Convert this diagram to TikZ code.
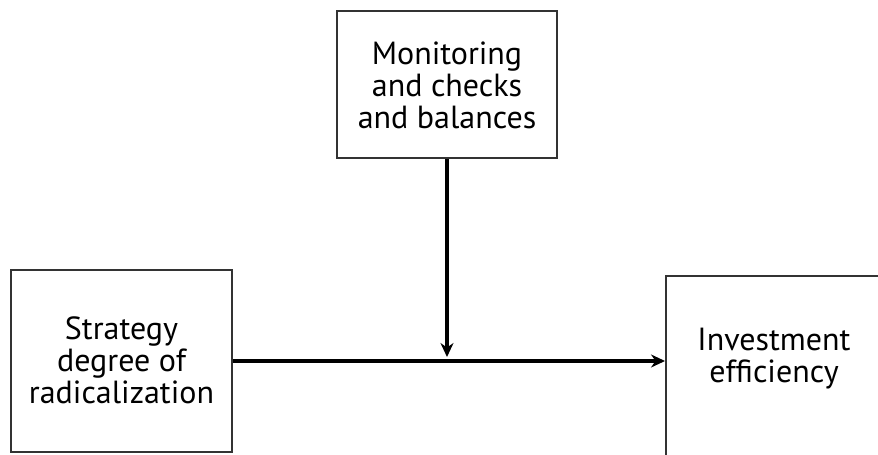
\documentclass[tikz,border=0pt]{standalone}
\usepackage{fontspec}
\setmainfont{PT Sans}
\usepackage{tikz}
\usetikzlibrary{arrows.meta}

\begin{document}
\begin{tikzpicture}[x=1pt, y=1pt,
  box/.style={draw=black!80, line width=2.4pt, fill=white, inner sep=0pt},
  txt/.style={align=center, font=\fontsize{32}{32}\selectfont},
  link/.style={line width=3.2pt, -{Stealth[length=14pt, width=13pt]}}]
\useasboundingbox (0,0) rectangle (878,455);

\node[box, minimum width=221, minimum height=182] (strat) at (121.5,94) {};
\node[box, minimum width=220, minimum height=147] (monit) at (447,370.5) {};
\node[box, anchor=north west, minimum width=240, minimum height=220] (effic) at (665,180) {};

\node[txt] (strattxt) at (121.5,95) {Strategy\\degree of\\radicalization};
\node[txt] (monittxt) at (447,370) {Monitoring\\and checks\\and balances};
\node[txt] (effictxt) at (774,96) {Investment\\efficiency};

\coordinate (meet) at (447,98);
\draw[link] (strat.east) -- (strat.east -| effic.west);
\draw[link] (monit.south) -- (meet);

\end{tikzpicture}
\end{document}
